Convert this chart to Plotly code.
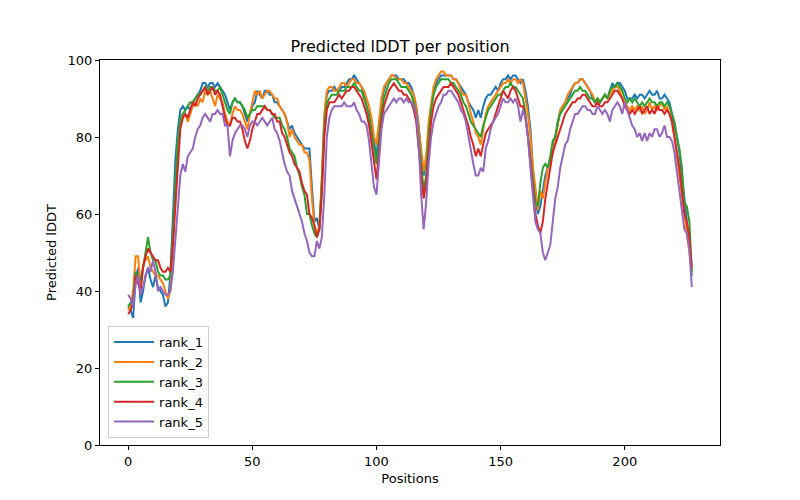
import plotly.graph_objects as go

rank_1 = [36,35,33,43,46,37,40,44,46,43,41,44,41,40,39,36,37,44,60,74,
82,87,88,87,88,87,89,90,91,92,94,94,93,94,94,93,94,93,92,91,
89,87,89,90,89,89,88,86,84,86,88,89,92,91,90,92,92,91,91,89,
89,88,87,86,84,82,83,81,80,79,78,77,77,77,67,58,59,56,68,85,
91,92,92,93,92,92,93,93,94,95,95,96,95,94,93,91,88,86,82,78,
75,82,89,92,94,95,96,96,96,95,95,95,94,94,93,91,88,83,75,70,
74,82,88,92,94,95,96,96,96,96,96,95,95,94,93,92,91,89,88,87,
85,87,85,88,90,91,91,92,93,92,94,95,95,96,95,96,96,95,94,95,
92,88,82,72,64,60,62,66,70,72,74,76,80,84,87,88,89,90,91,93,
94,94,95,95,94,93,92,90,89,90,89,90,91,90,92,94,93,94,94,93,
92,90,90,90,91,90,91,91,90,91,92,91,91,92,90,90,91,90,89,86,
83,80,76,70,63,57,52,44]

rank_2 = [35,36,40,49,49,41,47,48,49,46,45,44,44,43,42,40,38,40,50,66,
78,84,85,86,84,86,88,89,88,90,89,92,91,92,90,88,91,90,89,86,
84,83,86,88,87,87,86,84,82,86,89,92,91,92,90,91,92,92,91,90,
90,88,87,86,84,80,82,80,79,78,78,76,76,74,64,57,55,57,70,86,
92,93,93,92,92,93,94,94,93,94,95,95,94,94,93,92,90,88,85,80,
78,84,90,93,94,95,96,96,95,95,95,94,94,93,92,91,88,83,77,71,
75,84,89,93,95,96,97,97,96,96,96,95,95,94,92,91,91,89,86,84,
81,80,78,82,86,88,89,90,91,92,93,94,94,95,94,95,95,94,95,94,
90,86,80,72,67,61,66,64,68,72,74,76,79,83,87,88,89,91,92,93,
94,94,95,95,94,93,92,91,89,90,89,90,91,90,91,92,93,93,92,90,
89,88,87,88,87,88,87,88,86,87,89,87,88,87,88,89,87,88,86,84,
80,75,70,66,60,55,51,45]

rank_3 = [36,37,38,45,43,43,46,50,54,50,48,48,45,44,44,43,43,44,55,68,
79,85,86,87,88,89,89,90,91,91,92,93,92,93,93,92,92,93,91,89,
87,86,89,90,89,89,88,87,85,86,87,87,88,88,88,88,87,87,86,85,
85,85,83,82,80,77,76,75,72,70,67,65,60,60,57,55,54,56,68,83,
89,90,91,91,91,92,92,92,93,93,93,94,93,92,92,90,88,85,81,76,
73,79,86,90,92,94,95,95,95,94,93,93,93,92,91,89,86,80,72,66,
70,80,87,91,93,94,95,95,95,95,94,94,93,92,91,89,88,86,84,83,
82,81,80,83,85,87,88,89,90,91,91,92,93,93,94,93,93,92,91,90,
86,80,74,68,63,62,68,72,73,72,75,79,80,84,86,87,88,89,90,91,
92,92,93,92,92,91,90,90,89,90,89,90,91,90,92,93,93,94,93,92,
90,89,90,89,90,89,88,89,88,89,90,89,89,88,89,89,88,89,88,86,
84,80,77,72,63,62,58,45]

rank_4 = [34,35,37,44,42,40,46,49,51,50,49,48,48,46,45,45,46,45,52,62,
72,82,85,86,85,87,89,88,90,91,92,93,91,92,93,91,92,91,88,85,
83,83,85,85,84,84,82,79,77,79,82,84,86,86,87,88,87,87,86,86,
84,84,81,80,78,76,75,73,72,71,68,66,65,60,59,57,54,56,65,80,
87,89,89,89,90,91,90,91,92,92,93,93,92,91,90,88,86,83,78,73,
69,76,84,88,90,92,93,94,93,92,92,91,91,90,89,87,84,77,70,64,
68,77,84,88,90,91,92,93,93,93,94,93,92,91,89,87,85,83,80,78,
75,77,75,78,81,82,83,84,86,88,90,92,91,90,92,93,92,90,88,88,
85,80,73,66,60,57,55,58,64,68,72,76,78,80,82,84,86,87,88,89,
89,90,90,91,91,90,89,88,88,89,88,88,89,89,90,91,92,92,91,90,
88,87,86,87,86,87,88,86,87,88,86,87,86,88,87,87,86,87,86,84,
80,76,72,66,60,58,54,46]

rank_5 = [39,38,36,42,44,39,41,44,46,45,48,45,40,41,40,39,39,40,45,54,
63,70,73,71,75,76,77,80,82,83,85,86,85,84,86,86,87,86,86,83,
83,75,79,81,82,83,83,82,80,83,84,84,83,84,85,84,83,84,85,82,
81,79,76,73,71,70,66,64,62,60,58,55,53,50,49,49,53,51,54,65,
80,85,87,88,88,88,88,89,88,88,88,89,87,86,84,84,83,79,73,67,
65,74,82,86,87,88,89,90,89,90,90,89,90,89,89,88,86,78,65,56,
63,73,80,84,86,88,89,91,91,92,92,91,90,89,87,86,84,80,77,73,
70,70,72,71,77,79,82,84,85,86,88,90,89,89,90,89,90,88,84,87,
85,80,72,64,58,56,55,50,48,50,52,58,64,67,72,75,78,79,82,84,
86,86,87,88,88,87,87,86,86,88,87,86,87,86,84,87,88,89,88,86,
89,87,85,83,82,80,81,79,81,79,81,80,82,82,80,81,83,80,80,79,
76,71,66,62,56,55,51,41]

series_names = ["rank_1", "rank_2", "rank_3", "rank_4", "rank_5"]
series_values = [rank_1, rank_2, rank_3, rank_4, rank_5]
colors = ["#1f77b4", "#ff7f0e", "#2ca02c", "#d62728", "#9467bd"]
x_ticks = [0, 50, 100, 150, 200]
y_ticks = [0, 20, 40, 60, 80, 100]

fig = go.Figure()
for name, vals, c in zip(series_names, series_values, colors):
    fig.add_trace(go.Scatter(x=list(range(len(vals))), y=vals, mode="lines",
                             name=name, line=dict(color=c, width=2)))

font = "DejaVu Sans, sans-serif"
axis_common = dict(showline=True, linecolor="black", linewidth=1, mirror=True,
                   ticks="outside", ticklen=4, tickcolor="black", showgrid=False,
                   zeroline=False, tickfont=dict(size=13, color="black", family=font))
n = len(rank_1) - 1
fig.update_layout(
    width=800, height=500,
    margin=dict(l=100, r=80, t=60, b=55),
    paper_bgcolor="white", plot_bgcolor="white",
    font=dict(family=font, color="black", size=13),
    title=dict(text="Predicted lDDT per position", x=0.5, xanchor="center",
               y=1 - 46 / 500, yanchor="middle", font=dict(size=16, color="black", family=font)),
    xaxis=dict(range=[-0.05 * n, 1.05 * n], tickvals=x_ticks,
               title=dict(text="Positions", font=dict(size=13), standoff=6), **axis_common),
    yaxis=dict(range=[0, 100], tickvals=y_ticks,
               title=dict(text="Predicted lDDT", font=dict(size=13), standoff=8), **axis_common),
    legend=dict(x=0.013, y=0.018, xanchor="left", yanchor="bottom",
                bgcolor="rgba(255,255,255,0.8)", bordercolor="#cccccc", borderwidth=1,
                font=dict(size=13, family=font), tracegroupgap=0, itemwidth=40),
    showlegend=True,
)
fig.write_html("out.html", config={"displayModeBar": False},
               post_script="document.body.style.margin='0';")
